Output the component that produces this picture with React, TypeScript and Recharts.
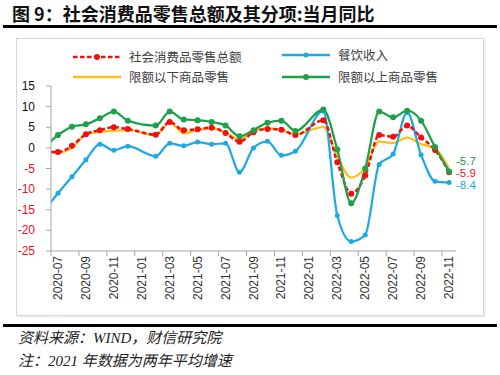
import React from "react";
import { LineChart, Line, XAxis, YAxis, LabelList } from "recharts";

// month index 0 = 2020-06 (sits just left of the plot, clipped)
const months = [
  "2020-06", "2020-07", "2020-08", "2020-09", "2020-10", "2020-11", "2020-12",
  "2021-01", "2021-02", "2021-03", "2021-04", "2021-05", "2021-06", "2021-07",
  "2021-08", "2021-09", "2021-10", "2021-11", "2021-12", "2022-01", "2022-02",
  "2022-03", "2022-04", "2022-05", "2022-06", "2022-07", "2022-08", "2022-09",
  "2022-10", "2022-11",
];

const totalRetail = [
  -1.0, -1.0, 0.5, 3.3, 4.3, 5.0, 4.6, null, 3.2, 6.3, 4.3, 4.5, 4.9, 3.6, 1.5,
  3.8, 4.6, 4.4, 3.1, null, 6.7, -3.5, -11.1, -6.7, 3.1, 2.7, 5.4, 2.5, -0.5, -5.9,
];
const catering = [
  -15.2, -11.0, -7.0, -2.9, 0.9, -0.6, 0.4, null, -2.0, 1.1, 0.5, 1.4, 0.9, 1.1,
  -5.9, 0.0, 1.6, -1.8, -0.8, null, 8.9, -16.4, -22.7, -21.1, -4.0, -1.5, 8.6,
  -1.7, -8.1, -8.4,
];
const belowLimit = [
  -0.6, -1.2, 0.0, 3.3, 3.9, 4.1, 4.3, null, 3.1, 6.1, 3.5, 4.3, 4.7, 3.7, 2.0,
  4.1, 4.7, 4.3, 3.3, null, 5.1, -2.2, -7.2, -4.8, 1.5, 1.2, 2.5, 0.9, -0.2, -5.0,
];
const aboveLimit = [
  0.0, 3.1, 5.1, 5.7, 7.2, 8.8, 6.6, null, 5.4, 8.8, 6.9, 6.7, 6.3, 5.4, 2.8,
  4.3, 6.1, 6.6, 4.1, null, 9.3, -0.4, -13.4, -5.0, 8.8, 7.4, 9.0, 6.6, 0.2, -5.7,
];

const yTicks = [-25, -20, -15, -10, -5, 0, 5, 10, 15];
const xTicks = [1, 3, 5, 7, 9, 11, 13, 15, 17, 19, 21, 23, 25, 27, 29];

const data = months.map((m, i) => ({
  idx: i,
  month: m,
  total: totalRetail[i],
  catering: catering[i],
  below: belowLimit[i],
  above: aboveLimit[i],
}));

const RED = "#F01010";
const BLUE = "#1FA9E1";
const ORANGE = "#FFBE1A";
const GREEN = "#1FA04A";
const AXIS = "#A6A6A6";
const LAST = months.length - 1;
const numFont = "'Liberation Sans', Arial, sans-serif";
const cjkFont = "'Noto Sans CJK SC', sans-serif";

function XTick(props: any) {
  const { x, y, payload } = props;
  return (
    <g transform={`translate(${x},${y})`}>
      <line x1={-7} x2={-7} y1={0} y2={5} stroke={AXIS} />
      <text transform="rotate(-90)" x={-5} y={4} textAnchor="end"
        fontSize={12} fontFamily={numFont} fill="#333">
        {months[payload.value]}
      </text>
    </g>
  );
}

function YTick(props: any) {
  const { x, y, payload } = props;
  return (
    <text x={x} y={y} dy={4} textAnchor="end" fontSize={12} fontFamily={numFont}
      fill={payload.value < 0 ? "#E8141E" : "#111"}>
      {payload.value}
    </text>
  );
}

// value label next to the last point of a series
const endLabel = (color: string, dy: number) => (p: any) => {
  if (p.index !== LAST) return null;
  return (
    <text x={p.x + 7} y={p.y + dy} fill={color} fontSize={11.5} fontFamily={numFont}>
      {p.value}
    </text>
  );
};

function LegendMark({ color, dashed, dot }: { color: string; dashed?: boolean; dot?: number }) {
  return (
    <svg width={48} height={10} style={{ display: "block" }}>
      <line x1={0} x2={48} y1={5} y2={5} stroke={color} strokeWidth={2.5}
        strokeDasharray={dashed ? "4.5 2.5" : undefined} />
      {dot ? <circle cx={24} cy={5} r={dot} fill={color} /> : null}
    </svg>
  );
}

const legendItems = [
  { name: "社会消费品零售总额", color: RED, dashed: true, dot: 3, left: 73, top: 50 },
  { name: "餐饮收入", color: BLUE, dot: 2.5, left: 282, top: 48 },
  { name: "限额以下商品零售", color: ORANGE, left: 73, top: 70 },
  { name: "限额以上商品零售", color: GREEN, dot: 3, left: 282, top: 70 },
];

export default function App() {
  return (
    <div style={{ position: "absolute", left: 0, top: 0, width: 500, height: 375, background: "#fff", overflow: "hidden" }}>
      <div style={{ position: "absolute", left: 12, top: 1, fontSize: 18, fontWeight: 700, fontFamily: cjkFont, color: "#111", whiteSpace: "nowrap", lineHeight: "24px" }}>
        图 9：社会消费品零售总额及其分项:当月同比
      </div>
      <div style={{ position: "absolute", left: 3, top: 25, width: 494, height: 3, background: "#000" }} />
      <div style={{ position: "absolute", left: 16, top: 38, width: 466, height: 276, border: "1px solid #D6D6D6", boxShadow: "1px 1px 2px #E6E6E6" }} />

      {legendItems.map((it) => (
        <div key={it.name} style={{ position: "absolute", left: it.left, top: it.top, display: "flex", alignItems: "center", whiteSpace: "nowrap" }}>
          <LegendMark color={it.color} dashed={it.dashed} dot={it.dot} />
          <span style={{ marginLeft: 8, fontSize: 12.5, fontFamily: cjkFont, color: "#404040", lineHeight: "14px" }}>{it.name}</span>
        </div>
      ))}

      <div style={{ position: "absolute", left: 0, top: 0 }}>
        <LineChart width={500} height={375} data={data}
          margin={{ top: 86, right: 44, bottom: 74, left: 10 }}>
          <XAxis type="number" dataKey="idx" domain={[0.5, 29.5]} allowDataOverflow
            ticks={xTicks} interval={0} tick={<XTick />} tickLine={false}
            tickSize={0} tickMargin={0} height={50} axisLine={{ stroke: AXIS }} />
          <YAxis type="number" domain={[-25, 15]} ticks={yTicks} interval={0}
            tick={<YTick />} tickSize={5} tickMargin={11} width={41}
            tickLine={{ stroke: AXIS }} axisLine={{ stroke: AXIS }} />
          <Line type="monotone" dataKey="below" stroke={ORANGE} strokeWidth={2.25}
            dot={false} connectNulls isAnimationActive={false} />
          <Line type="monotone" dataKey="catering" stroke={BLUE} strokeWidth={2.25}
            dot={{ r: 2.5, fill: BLUE, stroke: "none" }} connectNulls isAnimationActive={false}>
            <LabelList dataKey="catering" content={endLabel(BLUE, 6.5)} />
          </Line>
          <Line type="monotone" dataKey="total" stroke={RED} strokeWidth={2.5}
            strokeDasharray="4.5 2.5" dot={{ r: 3, fill: RED, stroke: "none" }}
            connectNulls isAnimationActive={false}>
            <LabelList dataKey="total" content={endLabel("#E8141E", 4.5)} />
          </Line>
          <Line type="monotone" dataKey="above" stroke={GREEN} strokeWidth={2.25}
            dot={{ r: 3, fill: GREEN, stroke: "none" }} connectNulls isAnimationActive={false}>
            <LabelList dataKey="above" content={endLabel(GREEN, -6.5)} />
          </Line>
        </LineChart>
      </div>

      <div style={{ position: "absolute", left: 3, top: 324, width: 494, height: 3, background: "#000" }} />
      <div style={{ position: "absolute", left: 18, top: 329, fontSize: 15, fontStyle: "italic", fontFamily: "'Liberation Serif', 'Noto Sans CJK SC', serif", color: "#222", lineHeight: "18px", whiteSpace: "nowrap" }}>
        资料来源：WIND，财信研究院
      </div>
      <div style={{ position: "absolute", left: 18, top: 352, fontSize: 15, fontStyle: "italic", fontFamily: "'Liberation Serif', 'Noto Sans CJK SC', serif", color: "#222", lineHeight: "18px", whiteSpace: "nowrap" }}>
        注：2021 年数据为两年平均增速
      </div>
    </div>
  );
}
